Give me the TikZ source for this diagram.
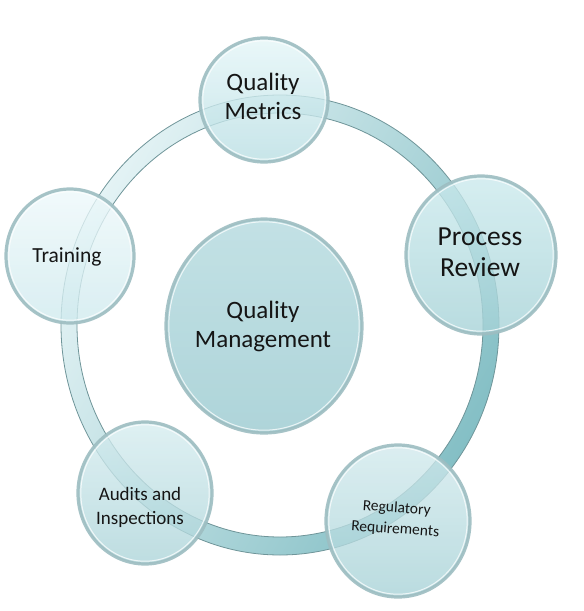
\documentclass[tikz,border=0pt]{standalone}
\usepackage{fontspec}
\setmainfont{Carlito}
\usetikzlibrary{calc}
\definecolor{ringlight}{HTML}{E4F3F5}
\definecolor{ringdark}{HTML}{84BFC5}
\definecolor{ringedge}{HTML}{6F9599}
\definecolor{bedge}{HTML}{9DBDC1}
\definecolor{txt}{HTML}{151515}
\definecolor{mgL}{HTML}{B2D9DE}\definecolor{mgD}{HTML}{98C9CF}
\definecolor{qmL}{HTML}{E4F6F8}\definecolor{qmD}{HTML}{B8DEE3}
\definecolor{prL}{HTML}{CBEAED}\definecolor{prD}{HTML}{A5D2D7}
\definecolor{trL}{HTML}{EEF9FB}\definecolor{trD}{HTML}{CFEAEE}
\definecolor{auL}{HTML}{D6EDF0}\definecolor{auD}{HTML}{ACD4D9}
\definecolor{rrL}{HTML}{D2EAED}\definecolor{rrD}{HTML}{A7D2D7}
\tikzset{
  ringline/.style={draw=ringedge, line width=0.8pt},
  bubbleedge/.style={draw=bedge, line width=3.2pt, opacity=0.9},
  bubblehl/.style={draw=white, line width=1pt, opacity=0.75},
  lbl/.style={align=center, text=txt, inner sep=0pt},
}
% #1 centre, #2 x radius, #3 y radius, #4 light, #5 dark
\newcommand{\qbubble}[5]{%
  \shade[top color=#4, bottom color=#5, fill opacity=0.78] (#1) ellipse [x radius=#2, y radius=#3];
  \path[bubbleedge] (#1) ellipse [x radius=#2, y radius=#3];
  \path[bubblehl] (#1) ellipse [x radius=#2-2.8, y radius=#3-2.8];
}
\begin{document}
\begin{tikzpicture}[x=1pt,y=-1pt]
\useasboundingbox (0,0) rectangle (584,611);
\fill[white] (0,0) rectangle (584,611);
% ring
\coordinate (rc) at (280,325);
\shade[even odd rule, top color=ringlight, bottom color=ringdark, shading angle=60]
  (rc) ellipse [x radius=219, y radius=230] (rc) ellipse [x radius=203, y radius=212];
\path[ringline] (rc) ellipse [x radius=219, y radius=230];
\path[ringline] (rc) ellipse [x radius=203, y radius=212];
% centres
\coordinate (cqm) at (264,100);
\coordinate (cpr) at (481,255);
\coordinate (ctr) at (70,256);
\coordinate (cau) at (145,493);
\coordinate (crr) at (398,521);
\coordinate (cmg) at (264,326);
\qbubble{cmg}{98}{107}{mgL}{mgD}
\qbubble{cqm}{64}{62}{qmL}{qmD}
\qbubble{cpr}{75}{79}{prL}{prD}
\qbubble{ctr}{64}{67}{trL}{trD}
\qbubble{cau}{67}{71}{auL}{auD}
\qbubble{crr}{72}{76}{rrL}{rrD}
% labels
\node[lbl, font=\fontsize{25}{29}\selectfont] (qm) at (263,96) {Quality\\Metrics};
\node[lbl, font=\fontsize{27.5}{31}\selectfont] (pr) at (480,252) {Process\\Review};
\node[lbl, font=\fontsize{25}{29}\selectfont] (mg) at (263,326) {Quality\\Management};
\node[lbl, font=\fontsize{21.5}{25}\selectfont] (tr) at (67,257) {Training};
\node[lbl, font=\fontsize{19}{24}\selectfont] (au) at (140,507) {Audits and\\Inspections};
\node[lbl, font=\fontsize{15.5}{21}\selectfont, rotate=-4] (rr) at (396,519) {Regulatory\\Requirements};
\end{tikzpicture}
\end{document}
